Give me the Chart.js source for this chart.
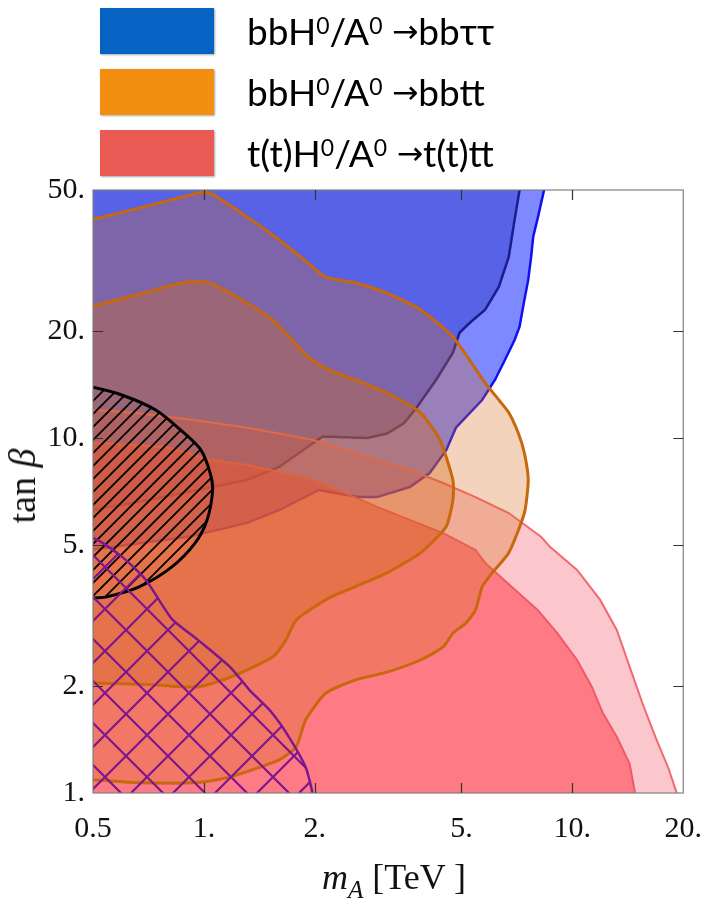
<!DOCTYPE html>
<html lang="en">
<head>
  <meta charset="UTF-8">
  <title>tan beta vs m_A</title>
  <script src="https://cdn.jsdelivr.net/npm/chart.js"></script>
  <style>
    * { margin: 0; padding: 0; box-sizing: border-box; }
    body { width: 720px; height: 903px; background: #fff; position: relative; overflow: hidden; }
    #plot { position: absolute; left: 0; top: 0; }

    /* Legend */
    .swatch { position: absolute; left: 100px; width: 114px; height: 46px; box-shadow: 1px 1px 2px rgba(0,0,0,0.35); }
    .legend-text { position: absolute; left: 247px; font-family: Lato, 'Noto Sans', sans-serif; font-size: 37px; line-height: 46px; white-space: nowrap; color: #000; }
    .legend-text sup { font-size: 0.62em; vertical-align: 0.5em; line-height: 0; }
    .arrow { font-family: 'DejaVu Sans', sans-serif; font-size: 0.85em; position: relative; top: -0.08em; }

    /* Axis titles */
    .axis-title { position: absolute; font-family: 'Liberation Serif', serif; color: #111; white-space: nowrap; }
    #xtitle { left: 394px; top: 880px; font-size: 36px; transform: translate(-50%, -50%); }
    #xtitle sub { font-size: 0.7em; }
    #ytitle { left: 22px; top: 486px; font-size: 38px; transform: translate(-50%, -50%) rotate(-90deg); }
  </style>
</head>
<body>
  <canvas id="plot" width="720" height="903"></canvas>

  <div class="swatch" style="top:8px;background:#0663c3"></div>
  <div class="legend-text" style="top:8px">bbH<sup>0</sup>/A<sup>0</sup> <span class="arrow">→</span>bbττ</div>
  <div class="swatch" style="top:69px;background:#f28f10"></div>
  <div class="legend-text" style="top:69px">bbH<sup>0</sup>/A<sup>0</sup> <span class="arrow">→</span>bbtt</div>
  <div class="swatch" style="top:130px;background:#eb5b56"></div>
  <div class="legend-text" style="top:130px">t(t)H<sup>0</sup>/A<sup>0</sup> <span class="arrow">→</span>t(t)tt</div>

  <div class="axis-title" id="xtitle"><i>m</i><sub><i>A</i></sub> [TeV ]</div>
  <div class="axis-title" id="ytitle">tan <i>β</i></div>

  <script>
    // Axis ticks
    const xTicks = [0.5, 1, 2, 5, 10, 20];
    const xTickLabels = ['0.5', '1.', '2.', '5.', '10.', '20.'];
    const yTicks = [1, 2, 5, 10, 20, 50];
    const yTickLabels = ['1.', '2.', '5.', '10.', '20.', '50.'];

    // Contours as [mA (TeV), tan beta]; points beyond the frame close the shapes
    const tautauOuter = [[8.5, 60], [8.38, 50], [8.07, 42.0], [7.83, 36.9], [7.73, 32.4], [7.59, 27.9],
      [7.41, 24.5], [7.19, 20.6], [6.97, 18.9], [6.56, 16.6], [6.17, 14.6], [5.69, 12.8], [4.83, 10.7],
      [4.55, 9.26], [4.10, 7.97], [3.62, 7.28], [2.95, 6.82], [2.62, 6.82], [2.05, 7.14], [1.81, 6.69],
      [1.60, 6.27], [1.31, 5.77], [0.906, 5.27], [0.5, 4.85], [0.4, 4.85], [0.4, 60]];

    const tautauInner = [[7.3, 60], [7.19, 50], [6.97, 41.2], [6.72, 32.4], [6.32, 26.7], [5.80, 23.0],
      [5.26, 21.1], [4.94, 19.8], [4.74, 17.4], [4.27, 14.6], [3.78, 12.2], [3.49, 11.0], [3.14, 10.3],
      [2.78, 10.0], [2.10, 10.1], [1.86, 9.26], [1.60, 8.29], [1.31, 7.62], [0.963, 7.14], [0.709, 6.69],
      [0.5, 6.27], [0.4, 6.27], [0.4, 60]];

    const ttOuter = [[0.4, 41.4], [0.5, 41.4], [0.963, 49.0], [1.04, 49.0], [1.31, 42.0], [1.60, 36.2],
      [1.92, 31.1], [2.14, 28.4], [2.57, 27.4], [3.14, 25.6], [3.87, 23.0], [4.74, 19.3], [5.80, 14.3],
      [6.32, 12.8], [6.72, 11.8], [7.14, 10.3], [7.41, 9.08], [7.59, 7.62], [7.41, 6.15], [6.72, 4.75],
      [6.06, 4.17], [5.69, 3.81], [5.46, 3.28], [5.14, 3.01], [4.74, 2.82], [4.46, 2.58], [3.87, 2.37],
      [3.14, 2.19], [2.57, 2.08], [2.14, 1.91], [1.89, 1.61], [1.78, 1.35], [1.60, 1.24], [1.18, 1.11],
      [0.963, 1.07], [0.639, 1.07], [0.5, 1.09], [0.4, 1.09]];

    const ttInner = [[0.4, 23.6], [0.5, 23.6], [0.89, 27.5], [1.02, 27.5], [1.18, 25.6], [1.54, 21.5],
      [1.92, 16.9], [2.18, 15.6], [2.57, 14.6], [3.14, 13.4], [3.87, 11.8], [4.37, 9.88], [4.74, 7.62],
      [4.74, 6.69], [4.54, 5.62], [3.87, 4.75], [3.14, 4.17], [2.57, 3.81], [2.18, 3.54], [1.78, 3.07],
      [1.67, 2.70], [1.54, 2.42], [1.18, 2.12], [0.963, 1.99], [0.709, 2.02], [0.5, 2.04], [0.4, 2.04]];

    const tttOuter = [[0.4, 12.0], [0.5, 12.0], [0.639, 11.8], [0.963, 11.2], [1.31, 10.7], [1.60, 10.3],
      [1.97, 9.88], [2.42, 9.26], [2.95, 8.68], [3.62, 8.13], [4.46, 7.47], [5.46, 6.82], [6.72, 6.15],
      [8.22, 5.27], [8.71, 4.93], [10.3, 4.25], [11.9, 3.50], [13.2, 2.88], [14.5, 2.18], [15.5, 1.79],
      [16.8, 1.44], [18.2, 1.18], [19.2, 1.0], [19.3, 0.9], [0.4, 0.9]];

    const tttInner = [[0.4, 9.69], [0.5, 9.69], [0.787, 9.44], [1.04, 8.68], [1.31, 8.40], [1.60, 8.03],
      [1.97, 7.62], [2.42, 7.00], [2.95, 6.40], [3.62, 5.88], [4.46, 5.40], [5.46, 4.84], [5.80, 4.45],
      [6.84, 3.81], [8.05, 3.28], [9.10, 2.82], [10.3, 2.37], [11.3, 1.99], [12.1, 1.68], [13.2, 1.44],
      [14.3, 1.21], [14.8, 1.0], [14.9, 0.9], [0.4, 0.9]];

    const hatchedEllipse = [[0.4, 14.5], [0.5, 13.9], [0.601, 13.2], [0.740, 12.0], [0.868, 10.5],
      [0.981, 9.26], [1.04, 7.97], [1.056, 7.14], [1.02, 5.88], [0.946, 5.06], [0.817, 4.33],
      [0.667, 3.81], [0.545, 3.57], [0.5, 3.54], [0.4, 3.4]];

    const crossHatched = [[0.4, 5.23], [0.5, 5.23], [0.601, 4.62], [0.696, 3.98], [0.817, 3.10],
      [0.963, 2.70], [1.18, 2.26], [1.33, 1.95], [1.51, 1.71], [1.70, 1.44], [1.89, 1.18], [1.97, 1.0],
      [1.98, 0.9], [0.4, 0.9]];

    const canvas = document.getElementById('plot');
    const ctx = canvas.getContext('2d');

    // Hatch patterns
    function hatch(size, color, width, both) {
      const tile = document.createElement('canvas');
      tile.width = tile.height = size;
      const g = tile.getContext('2d');
      g.strokeStyle = color;
      g.lineWidth = width;
      g.beginPath();
      g.moveTo(-1, size + 1); g.lineTo(size + 1, -1);
      g.moveTo(-1, 1); g.lineTo(1, -1);
      g.moveTo(size - 1, size + 1); g.lineTo(size + 1, size - 1);
      if (both) {
        g.moveTo(-1, -1); g.lineTo(size + 1, size + 1);
        g.moveTo(size - 1, -1); g.lineTo(size + 1, 1);
        g.moveTo(-1, size - 1); g.lineTo(1, size + 1);
      }
      g.stroke();
      return ctx.createPattern(tile, 'repeat');
    }

    function region(label, pts, fillColor, lineColor, lineWidth, order, tension) {
      return {
        label,
        data: pts.map(p => ({ x: p[0], y: p[1] })),
        fill: 'shape',
        backgroundColor: fillColor,
        borderColor: lineColor,
        borderWidth: lineWidth,
        pointRadius: 0,
        tension: tension || 0,
        order,
        clip: 0
      };
    }

    // Frame with inward ticks on all four sides
    const framePlugin = {
      id: 'frame',
      afterDatasetsDraw(chart) {
        const { ctx, chartArea: a, scales: { x, y } } = chart;
        ctx.save();
        ctx.strokeStyle = '#808080';
        ctx.lineWidth = 1.2;
        ctx.strokeRect(a.left, a.top, a.right - a.left, a.bottom - a.top);
        ctx.strokeStyle = '#333';
        ctx.beginPath();
        xTicks.slice(1, -1).forEach(v => {
          const px = Math.round(x.getPixelForValue(v)) + 0.5;
          ctx.moveTo(px, a.bottom); ctx.lineTo(px, a.bottom - 10);
          ctx.moveTo(px, a.top); ctx.lineTo(px, a.top + 10);
        });
        yTicks.slice(1, -1).forEach(v => {
          const py = Math.round(y.getPixelForValue(v)) + 0.5;
          ctx.moveTo(a.left, py); ctx.lineTo(a.left + 10, py);
          ctx.moveTo(a.right, py); ctx.lineTo(a.right - 10, py);
        });
        ctx.stroke();
        ctx.restore();
      }
    };

    const tickFont = { family: "'Liberation Serif', serif", size: 30 };

    new Chart(ctx, {
      type: 'line',
      data: {
        datasets: [
          region('bbττ outer', tautauOuter, 'rgba(0,20,255,0.5)', '#1010f0', 2.5, 8),
          region('bbττ inner', tautauInner, 'rgba(40,50,200,0.45)', '#1c1c8a', 2.5, 7),
          region('t(t)tt outer', tttOuter, 'rgba(245,70,85,0.3)', '#f26873', 2, 6),
          region('t(t)tt inner', tttInner, 'rgba(255,60,75,0.55)', '#f05a66', 2, 5),
          region('bbtt outer', ttOuter, 'rgba(215,110,30,0.3)', '#c8680c', 3, 4, 0.2),
          region('bbtt inner', ttInner, 'rgba(210,105,25,0.35)', '#c8680c', 3, 3, 0.2),
          region('hatched', hatchedEllipse, hatch(13, '#000', 1.8, false), '#000', 3, 2, 0.3),
          region('cross-hatched', crossHatched, hatch(42, '#7d168f', 2.2, true), '#7d168f', 2.5, 1, 0.2)
        ]
      },
      options: {
        responsive: false,
        animation: false,
        devicePixelRatio: 1,
        layout: { padding: { top: 190, right: 25, left: 0, bottom: 0 } },
        plugins: { legend: { display: false }, tooltip: { enabled: false } },
        elements: { line: { capBezierPoints: false } },
        scales: {
          x: {
            type: 'logarithmic',
            min: 0.5,
            max: 20,
            afterBuildTicks: s => { s.ticks = xTicks.map(v => ({ value: v })); },
            afterFit: s => { s.height = 110; },
            grid: { display: false, drawTicks: false },
            border: { display: false },
            ticks: {
              autoSkip: false, maxRotation: 0, color: '#111', font: tickFont, padding: 18,
              callback: (v, i) => xTickLabels[i]
            }
          },
          y: {
            type: 'logarithmic',
            min: 1,
            max: 50,
            afterBuildTicks: s => { s.ticks = yTicks.map(v => ({ value: v })); },
            afterFit: s => { s.width = 93; },
            grid: { display: false, drawTicks: false },
            border: { display: false },
            ticks: {
              autoSkip: false, color: '#111', font: tickFont, padding: 8,
              callback: (v, i) => yTickLabels[i]
            }
          }
        }
      },
      plugins: [framePlugin]
    });
  </script>
</body>
</html>
